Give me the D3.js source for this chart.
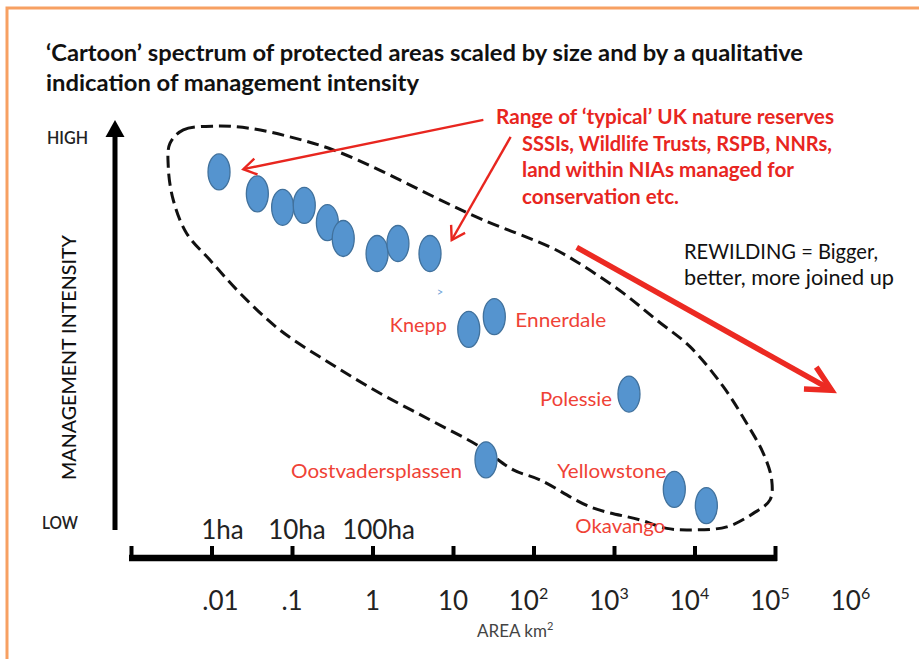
<!DOCTYPE html>
<html><head><meta charset="utf-8">
<script src="https://cdn.jsdelivr.net/npm/d3@7"></script>
<style>html,body{margin:0;padding:0;background:#fff;} svg{display:block;font-family:Lato,"Open Sans",sans-serif;}</style>
</head><body>
<svg id="c" width="919" height="659"></svg>
<script>
// ---------------- DATA ----------------
const reserveAreas = [0.0124, 0.0371, 0.0765, 0.142, 0.275, 0.433, 1.14, 2.07, 5.18]; // km²
const reserveIntensity = [91.2, 85.5, 82.0, 82.5, 78.0, 73.9, 70.0, 72.6, 70.0];     // 0 = LOW, 100 = HIGH
const siteNames = ["Knepp", "Ennerdale", "Polessie", "Oostvadersplassen", "Yellowstone", "Okavango"];
const siteAreas = [15.7, 32.6, 1535, 25.7, 5610, 14030];
const siteIntensity = [50.3, 53.6, 33.5, 16.4, 8.75, 4.5];
const tickValuesKm = [1e-3, 1e-2, 1e-1, 1, 10, 1e2, 1e3, 1e4, 1e5];
const labelValuesKm = [1e-2, 1e-1, 1, 10, 1e2, 1e3, 1e4, 1e5, 1e6];
const labelBase = [".01", ".1", "1", "10", "10", "10", "10", "10", "10"];
const labelExp = ["", "", "", "", "2", "3", "4", "5", "6"];
const haValues = [0.01, 0.1, 1];
const haLabels = ["1ha", "10ha", "100ha"];
// envelope (dashed loop) in log10(area) and intensity
const envelopeLogArea = [-2.516, -2.35, -1.935, -1.522, -1.025, -0.487, 0.134, 0.755, 1.377, 2.205, 2.54, 3.116, 3.53, 3.944, 4.358, 4.648, 4.855, 4.959, 4.938, 4.73, 4.4, 3.944, 3.655, 3.323, 2.702, 2.081, 1.749, 1.335, 0.714, 0.093, -0.528, -1.149, -1.646, -2.019, -2.308, -2.475, -2.537];
const envelopeIntensity = [98.6, 102.1, 103.1, 102.5, 100.3, 96.9, 91.2, 84.8, 78.7, 71.7, 67.8, 59.7, 52.7, 45.8, 35.4, 25.9, 18.1, 11.2, 6.0, 2.5, -1.0, -1.8, -1.4, 0.8, 4.2, 11.2, 13.8, 19.8, 26.8, 33.7, 41.5, 50.1, 59.7, 68.3, 75.2, 83.9, 92.5];
const titleLines = ["\u2018Cartoon\u2019 spectrum of protected areas scaled by size and by a qualitative", "indication of management intensity"];
const noteLines = ["Range of \u2018typical\u2019 UK nature reserves", "SSSIs, Wildlife Trusts, RSPB, NNRs,", "land within NIAs managed for", "conservation etc."];
const rewildLines = ["REWILDING = Bigger,", "better, more joined up"];

// ---------------- LAYOUT / STYLE ----------------
const svg = d3.select("#c");
const x = d3.scaleLog().domain([1e-3, 1e6]).range([131, 855.5]);
const y = d3.scaleLinear().domain([0, 100]).range([523, 138]);
const RED = "#e8261f", LABEL = "#ef4236", BLUE = "#5594cf", BLUE_S = "#41719c", INK = "#111";

svg.append("rect").attr("width", 919).attr("height", 659).attr("fill", "#fff");
svg.append("rect").attr("x", 7).attr("y", 8).attr("width", 1200).attr("height", 1200)
  .attr("fill", "none").attr("stroke", "#f7a062").attr("stroke-width", 3);

// title
const titleLen = [757, 373];
svg.selectAll("text.title").data(titleLines).join("text").attr("class", "title")
  .attr("x", 46).attr("y", (d, i) => 61 + i * 29.5)
  .attr("font-size", 22).attr("font-weight", 700).attr("fill", INK)
  .attr("textLength", (d, i) => titleLen[i]).attr("lengthAdjust", "spacingAndGlyphs")
  .text(d => d);

// y arrow axis
const yTop = y(100) - 18, yBot = y(0) + 7, ax = 115;
svg.append("line").attr("x1", ax).attr("x2", ax).attr("y1", yBot).attr("y2", yTop + 12)
  .attr("stroke", "#000").attr("stroke-width", 5);
svg.append("path").attr("d", `M${ax},${yTop} L${ax + 9.5},${yTop + 17} L${ax - 9.5},${yTop + 17} Z`).attr("fill", "#000");
svg.append("text").attr("x", 67.5).attr("y", y(100) + 6).attr("text-anchor", "middle")
  .attr("font-size", 17).attr("font-weight", 600).attr("fill", "#222")
  .attr("textLength", 41).attr("lengthAdjust", "spacingAndGlyphs").text("HIGH");
svg.append("text").attr("x", 60).attr("y", y(0) + 6).attr("text-anchor", "middle")
  .attr("font-size", 17).attr("font-weight", 600).attr("fill", "#222")
  .attr("textLength", 36).attr("lengthAdjust", "spacingAndGlyphs").text("LOW");
svg.append("text").attr("transform", `translate(75.5,${(y(0) + y(100)) / 2 + 27}) rotate(-90)`)
  .attr("text-anchor", "middle").attr("font-size", 20).attr("font-weight", 500).attr("fill", INK)
  .attr("textLength", 245).attr("lengthAdjust", "spacingAndGlyphs").text("MANAGEMENT INTENSITY");

// x axis
const axisY = 558;
const gx = svg.append("g").attr("transform", `translate(0,${axisY})`);
gx.call(d3.axisBottom(x).tickValues(tickValuesKm).tickSize(-12).tickFormat(""));
gx.select(".domain").remove();
gx.selectAll(".tick line").attr("stroke", "#000").attr("stroke-width", 4).attr("y2", -12).attr("y1", 3);
gx.append("line").attr("x1", x(1e-3) - 2).attr("x2", x(1e5) + 2).attr("y1", 0).attr("y2", 0)
  .attr("stroke", "#000").attr("stroke-width", 6.5);

const lab = svg.append("g").selectAll("text").data(labelValuesKm).join("text")
  .attr("x", (d, i) => x(d) + (labelExp[i] ? -5 : (i === 0 ? 9 : 0)))
  .attr("y", 610).attr("text-anchor", "middle").attr("font-size", 26).attr("fill", "#222");
lab.append("tspan").text((d, i) => labelBase[i]);
lab.append("tspan").attr("dy", -11).attr("font-size", 16).text((d, i) => labelExp[i]);

svg.append("g").selectAll("text").data(haValues).join("text")
  .attr("x", (d, i) => x(d) + [11, 5, 6][i]).attr("y", 539).attr("text-anchor", "middle")
  .attr("font-size", 26).attr("fill", "#222").text((d, i) => haLabels[i]);

const at = svg.append("text").attr("x", 477).attr("y", 637).attr("font-size", 17).attr("fill", "#444");
at.append("tspan").text("AREA km");
at.append("tspan").attr("dy", -7).attr("font-size", 11).text("2");

// envelope
const env = envelopeLogArea.map((v, i) => [v, envelopeIntensity[i]]);
svg.append("path").datum(env)
  .attr("d", d3.line().x(d => x(Math.pow(10, d[0]))).y(d => y(d[1])).curve(d3.curveCatmullRomClosed.alpha(0.5)))
  .attr("fill", "none").attr("stroke", INK).attr("stroke-width", 3).attr("stroke-dasharray", "12,6");

// dots
const allDots = reserveAreas.map((a, i) => ({a, v: reserveIntensity[i]}))
  .concat(siteAreas.map((a, i) => ({a, v: siteIntensity[i]})));
svg.append("g").selectAll("ellipse").data(allDots).join("ellipse")
  .attr("cx", d => x(d.a)).attr("cy", d => y(d.v)).attr("rx", 11).attr("ry", 18)
  .attr("fill", BLUE).attr("stroke", BLUE_S).attr("stroke-width", 1.3);

// small stray mark near Knepp
svg.append("text").attr("x", x(siteAreas[0]) - 32).attr("y", y(siteIntensity[0]) - 33)
  .attr("font-size", 11).attr("fill", "#6fa3d8").attr("transform-origin", "center")
  .text("\u02C3");

// site labels
const labelStyle = {
  Knepp: {anchor: "end", dx: -22, dy: 3, len: 57},
  Ennerdale: {anchor: "start", dx: 21, dy: 10, len: 91},
  Polessie: {anchor: "end", dx: -17, dy: 12, len: 72},
  Oostvadersplassen: {anchor: "end", dx: -24, dy: 18, len: 171},
  Yellowstone: {anchor: "end", dx: -8, dy: -11, len: 109},
  Okavango: {anchor: "end", dx: -41, dy: 27, len: 90}
};
svg.append("g").selectAll("text").data(siteNames).join("text")
  .attr("x", (d, i) => x(siteAreas[i]) + labelStyle[d].dx)
  .attr("y", (d, i) => y(siteIntensity[i]) + labelStyle[d].dy)
  .attr("text-anchor", d => labelStyle[d].anchor)
  .attr("font-size", 20).attr("fill", LABEL)
  .attr("textLength", d => labelStyle[d].len).attr("lengthAdjust", "spacingAndGlyphs")
  .text(d => d);

// annotation arrows
function arrow(x1, y1, x2, y2, w, len, ang, color) {
  const th = Math.atan2(y2 - y1, x2 - x1) + Math.PI;
  const a = ang * Math.PI / 180;
  svg.append("line").attr("x1", x1).attr("y1", y1).attr("x2", x2).attr("y2", y2)
    .attr("stroke", color).attr("stroke-width", w);
  svg.append("path")
    .attr("d", `M${x2 + len * Math.cos(th + a)},${y2 + len * Math.sin(th + a)} L${x2},${y2} L${x2 + len * Math.cos(th - a)},${y2 + len * Math.sin(th - a)}`)
    .attr("fill", "none").attr("stroke", color).attr("stroke-width", w).attr("stroke-linecap", "square");
}
arrow(x(Math.pow(10, 1.377)), y(104.7), x(Math.pow(10, -1.605)), y(91.9), 2.4, 14, 32, RED);
arrow(x(Math.pow(10, 1.716)), y(100.3), x(Math.pow(10, 0.984)), y(73.5), 2.4, 14, 32, RED);
arrow(x(Math.pow(10, 2.537)), y(71.6), x(Math.pow(10, 5.704)), y(34.5), 5.5, 25, 27, "#ec2a22");

// note text
const noteX = [496, 522, 522, 522], noteLen = [338, 310, 272, 157];
svg.selectAll("text.note").data(noteLines).join("text").attr("class", "note")
  .attr("x", (d, i) => noteX[i]).attr("y", (d, i) => 124 + i * 26.6)
  .attr("font-size", 21).attr("font-weight", 700).attr("fill", RED)
  .attr("textLength", (d, i) => noteLen[i]).attr("lengthAdjust", "spacingAndGlyphs").text(d => d);

const rwLen = [194, 210];
svg.selectAll("text.rw").data(rewildLines).join("text").attr("class", "rw")
  .attr("x", 684).attr("y", (d, i) => 258.5 + i * 26.6)
  .attr("font-size", 21).attr("fill", INK)
  .attr("textLength", (d, i) => rwLen[i]).attr("lengthAdjust", "spacingAndGlyphs").text(d => d);
</script>
</body></html>
